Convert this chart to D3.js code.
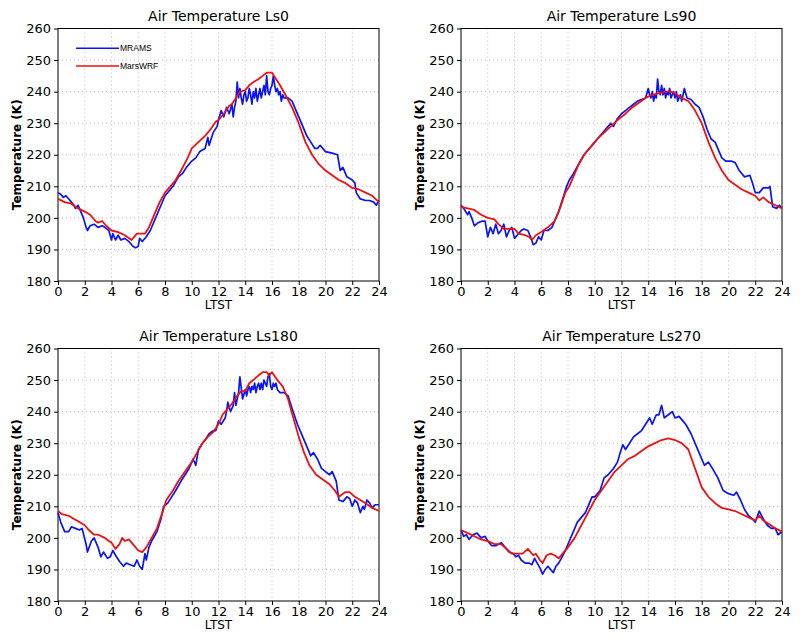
<!DOCTYPE html>
<html><head><meta charset="utf-8">
<script src="https://cdn.jsdelivr.net/npm/d3@7"></script>
<style>body{margin:0;background:#fff}svg{display:block}</style>
</head><body><svg id="c" width="800" height="638"></svg>
<script>
const panelTitles = ["Air Temperature Ls0","Air Temperature Ls90","Air Temperature Ls180","Air Temperature Ls270"];
const seriesNames = ["MRAMS","MarsWRF"];
const xTicks = [0,2,4,6,8,10,12,14,16,18,20,22,24];
const yTicks = [180,190,200,210,220,230,240,250,260];

// Ls0
const ls0_mrams_t = [0,0.2,0.4,0.6,0.8,1.0,1.2,1.3,1.5,1.7,1.9,2.1,2.2,2.4,2.7,3.0,3.3,3.5,3.8,4.0,4.1,4.3,4.5,4.7,5.0,5.3,5.6,5.8,6.0,6.1,6.3,6.6,6.9,7.3,7.7,8.0,8.4,8.6,9.0,9.3,9.6,10.0,10.3,10.6,11.0,11.2,11.3,11.6,11.9,12.0,12.2,12.4,12.6,12.8,13.0,13.1,13.2,13.3,13.4,13.5,13.6,13.7,13.8,13.9,14.0,14.1,14.2,14.3,14.4,14.5,14.6,14.7,14.8,14.9,15.0,15.1,15.2,15.3,15.4,15.5,15.6,15.7,15.8,15.9,16.0,16.1,16.2,16.3,16.4,16.5,16.6,16.7,16.8,16.9,17.2,17.5,17.8,18.2,18.6,18.9,19.2,19.4,19.6,20.0,20.5,20.9,21.1,21.3,21.6,22.0,22.2,22.3,22.6,23.0,23.3,23.6,23.8,24];
const ls0_mrams_v = [208,207.5,206.5,207,206,205,204,203,204,202,200,197,196,197.5,198,197,197.5,197,196,193,195,193,194.5,193,193.5,192.5,191,190.5,191,193.5,192.5,194,196,200,204,207,209,210,213,214,216,218,219,221,222,225.5,223,227,229,231,234,232,235,233,236,232,235,237,243,238,241,238,236,239,240,237,238,241,239,236,240,238,241,237,239,241,238,240,242,239,245,240,239,241,242,245,242,240,241,239,240,237,239,238,238,237,234,230,226,224,222,222,223,221,220.5,220,215,216,213,212,211,208,206,205.5,205.5,205,204,205.5];
const ls0_wrf_t = [0,0.5,1.0,1.5,2.0,2.4,2.8,3.0,3.3,3.6,4.0,4.5,5.0,5.5,5.9,6.3,6.5,6.8,7.2,7.6,8.0,8.4,8.8,9.2,9.7,10.0,10.5,11.0,11.4,11.8,12.0,12.4,12.8,13.0,13.3,13.6,14.0,14.3,14.6,15.0,15.3,15.6,16.0,16.3,16.6,17.0,17.5,18.0,18.5,19.0,19.5,20.0,20.5,21.0,21.5,22.0,22.5,23.0,23.5,24];
const ls0_wrf_v = [206,205,204.5,203,202,201,199,198.5,199,197.5,196,195.5,194.5,193,195,195,195,197,201,205,208,210,212,215,219,222,224,226,228,230.5,231,233,235.5,236,238,240,240.5,242,243,244,245,246,246,244,242,239,235,230,224,220,217,215,213.5,212,211,209.5,209,208,207,205];

// Ls90
const ls90_mrams_t = [0,0.2,0.5,0.6,0.8,1.0,1.3,1.6,1.8,2.0,2.2,2.4,2.6,2.8,3.0,3.2,3.4,3.6,3.8,4.0,4.2,4.5,4.7,5.0,5.2,5.4,5.6,5.8,6.0,6.2,6.5,6.8,7.0,7.3,7.6,7.9,8.1,8.4,8.8,9.2,9.6,10.0,10.4,10.8,11.2,11.4,11.7,12.0,12.3,12.6,12.9,13.2,13.5,13.8,14.0,14.1,14.2,14.3,14.4,14.5,14.6,14.7,14.8,14.9,15.0,15.1,15.2,15.3,15.4,15.5,15.6,15.7,15.8,15.9,16.0,16.1,16.2,16.4,16.5,16.7,16.9,17.2,17.5,17.8,18.1,18.4,18.7,19.0,19.3,19.5,19.8,20.2,20.5,20.8,21.2,21.6,21.8,22.0,22.3,22.6,23.0,23.1,23.3,23.6,23.8,24];
const ls90_mrams_v = [204,203,201,202,200,197.5,198.5,199,199,194,197,195,198,195,196,198,194,196,197,193.5,194.5,196,196.5,196,194,191.5,192,194,193,196,196,197,199,202,206,210,212,214,217,220,222,224,226,228,230,229,231.5,233,234,235,236,237,237.5,238,241,239,238,240,237,239,238,244,240,239,242,239,241,238,240,239,241,238,239,240,238,240,237,239,237,241,238,237.5,236,235,232,228,225,224,221,219,218,218,217.5,215,213,213.5,211,208,208,209.5,209.5,210,203.5,203,204,203];
const ls90_wrf_t = [0,0.5,1.0,1.5,2.0,2.5,2.8,3.2,3.6,4.0,4.3,4.8,5.1,5.3,5.6,6.0,6.5,7.0,7.4,7.8,8.1,8.4,8.8,9.2,9.7,10.2,10.7,11.2,11.7,12.3,12.8,13.3,13.8,14.3,14.8,15.3,15.7,16.0,16.5,17.0,17.5,18.0,18.5,19.0,19.5,20.0,20.5,21.0,21.5,22.0,22.3,22.6,23.0,23.5,24];
const ls90_wrf_v = [203.5,203,202.5,201,200,199.5,198,196.5,196.5,196.5,195,194.5,194,193,194.5,195.5,197,199,203,208,210,213,217,220,222.5,225,227,229,231,233,235,236.5,238,239,239.5,240,240,239.5,238,237,234,230,224,219,215,212,210.5,209,208,207,205.5,206.5,205,204,203];

// Ls180
const ls180_mrams_t = [0,0.2,0.5,0.8,1.0,1.3,1.6,1.8,2.1,2.2,2.5,2.7,3.0,3.2,3.4,3.7,3.9,4.1,4.3,4.6,4.9,5.1,5.4,5.7,5.9,6.1,6.3,6.5,6.6,6.8,7.0,7.4,7.7,7.9,8.2,8.5,8.8,9.2,9.5,9.8,10.1,10.3,10.5,10.8,11.0,11.3,11.6,11.8,12.0,12.2,12.5,12.6,12.7,12.9,13.1,13.2,13.3,13.5,13.6,13.8,14.0,14.1,14.2,14.3,14.4,14.5,14.6,14.7,14.8,14.9,15.0,15.1,15.2,15.3,15.4,15.5,15.6,15.7,15.8,15.9,16.0,16.1,16.2,16.3,16.4,16.6,16.9,17.2,17.5,17.9,18.3,18.6,18.9,19.1,19.4,19.7,20.0,20.3,20.5,20.8,21.0,21.3,21.6,21.8,22.0,22.2,22.4,22.6,22.8,22.9,23.1,23.3,23.5,23.7,24];
const ls180_mrams_v = [208,205,202,202,203.5,203,202.5,203,198,195.5,199,200,197,194,195.5,193.5,194,196,194.5,192.5,191,192,191.5,191,193,191,190,195,193,197,199,202,206,210,211,213,215,218,220,222,225,223,228,230,231,233,234,234,237,236,238,240,243,240,242,246,242,246,251,244,247,245,247,248,246,248,247,249,246,248,249,247,249,247,250,249,248,251,252,248,247,249,248,249,247,246,246,245,241,236,232,229,226,227,225,222,221,220,221,218,212,211.5,213,212.5,210,212,211,208,210,209,212,211,209.5,210.5,210.5];
const ls180_wrf_t = [0,0.3,0.8,1.2,1.6,2.0,2.3,2.7,3.0,3.5,3.8,4.0,4.3,4.6,4.8,5.0,5.3,5.6,6.0,6.3,6.6,7.0,7.4,7.8,8.1,8.6,9.0,9.5,10.0,10.4,10.8,11.2,11.6,12.0,12.3,12.6,13.0,13.4,13.7,14.0,14.3,14.6,15.0,15.3,15.6,15.8,16.0,16.4,16.8,17.2,17.6,18.0,18.4,18.8,19.3,19.8,20.3,20.7,21.0,21.5,21.8,22.2,22.6,23.0,23.5,24];
const ls180_wrf_v = [208.5,207.5,207,206,205,204,202.5,201,201,200,199,198.5,196.5,198,200,199,199.5,198,196,195.5,197,200,203,208,212,215,218,221,224,227,230,232,233.5,236,239,240.5,242.5,245,246.5,246.5,249,250,251.5,252.5,252.5,251.5,252.5,250,248,244,238,232,227,223,220,218.5,217,215,213,214.5,214.5,213,212,211,209.5,208.5];

// Ls270
const ls270_mrams_t = [0,0.2,0.4,0.6,0.9,1.2,1.5,1.8,2.0,2.3,2.6,3.0,3.3,3.6,3.9,4.1,4.3,4.5,4.8,5.1,5.3,5.5,5.7,5.9,6.1,6.3,6.5,6.7,6.9,7.1,7.3,7.5,7.8,8.1,8.4,8.7,9.0,9.3,9.5,9.8,10.0,10.4,10.7,11.0,11.4,11.7,11.9,12.1,12.3,12.6,12.9,13.2,13.5,13.8,14.1,14.3,14.6,14.8,15.0,15.2,15.5,15.8,16.0,16.3,16.6,16.8,17.2,17.6,17.9,18.2,18.5,18.8,19.2,19.6,20.0,20.4,20.6,20.9,21.2,21.5,21.8,22.0,22.3,22.6,22.9,23.2,23.5,23.7,24];
const ls270_mrams_v = [202.5,200.5,201,199.5,201,201.5,200,200.5,199,197.5,197.5,198.5,197,195.5,195,194,194.5,193,192,192,191.5,193.5,192,190.5,188.5,190,191,190,189,191,192,193.5,196,199,202,205,206.5,208,210,213,213,215,219,220,222,224,227,229.5,228,230,232,233,234,236,238,236,239,239,242,238,239,240,238,238.5,237,236,233,229,226,223,224,222,219,215,214,213.5,214.5,212,209,207,206,205,208.5,206,204,203,203,201,202];
const ls270_wrf_t = [0,0.5,1.0,1.5,2.0,2.5,3.0,3.4,3.8,4.2,4.6,5.0,5.4,5.6,5.9,6.1,6.4,6.7,7.0,7.3,7.6,8.0,8.5,9.0,9.5,10.0,10.5,11.0,11.5,12.0,12.5,13.0,13.5,14.0,14.5,15.0,15.5,16.0,16.5,17.0,17.5,18.0,18.5,19.0,19.5,20.0,20.5,21.0,21.5,22.0,22.3,22.6,23.0,23.5,24];
const ls270_wrf_v = [202.5,201.5,200.5,199.5,199,198,198,196.5,195,195,195,196.5,194.5,195,193,192,194.5,195,194.5,193.5,195,197,200,204,208,212,215,218,221,223,225,226,227.5,229,230,231,231.5,231,230,228,222,216,213,211,209.5,209,208.5,207.5,206.5,205.5,207,205.5,204.5,203,202];

const panels = [
  {title: panelTitles[0], ox: 0, oy: 0, left: 58, right: 379, mt: ls0_mrams_t, mv: ls0_mrams_v, wt: ls0_wrf_t, wv: ls0_wrf_v, legend: true},
  {title: panelTitles[1], ox: 400, oy: 0, left: 61, right: 382, mt: ls90_mrams_t, mv: ls90_mrams_v, wt: ls90_wrf_t, wv: ls90_wrf_v},
  {title: panelTitles[2], ox: 0, oy: 320, left: 58, right: 379, mt: ls180_mrams_t, mv: ls180_mrams_v, wt: ls180_wrf_t, wv: ls180_wrf_v},
  {title: panelTitles[3], ox: 400, oy: 320, left: 61, right: 382, mt: ls270_mrams_t, mv: ls270_mrams_v, wt: ls270_wrf_t, wv: ls270_wrf_v}
];
const colBlue = "#0a14f5", colRed = "#ee1111";
const svg = d3.select("#c");
const font = "DejaVu Sans, Verdana, sans-serif";

panels.forEach(p => {
  const g = svg.append("g").attr("transform", `translate(${p.ox},${p.oy})`);
  const top = 28.5, bottom = 281;
  const x = d3.scaleLinear().domain([0,24]).range([p.left, p.right]);
  const y = d3.scaleLinear().domain([180,260]).range([bottom, top]);

  // grid
  g.append("g").selectAll("line.gx").data(xTicks.slice(1,-1)).join("line")
    .attr("x1", d=>x(d)).attr("x2", d=>x(d)).attr("y1", top).attr("y2", bottom)
    .attr("stroke", "#bbb").attr("stroke-width", 1).attr("stroke-dasharray", "1,3");
  g.append("g").selectAll("line.gy").data(yTicks.slice(1,-1)).join("line")
    .attr("x1", p.left).attr("x2", p.right).attr("y1", d=>y(d)).attr("y2", d=>y(d))
    .attr("stroke", "#bbb").attr("stroke-width", 1).attr("stroke-dasharray", "1,3");

  // axes
  const xa = g.append("g").attr("transform", `translate(0,${bottom})`)
    .call(d3.axisBottom(x).tickValues(xTicks).tickSize(4).tickPadding(2).tickFormat(d3.format("d")));
  const ya = g.append("g").attr("transform", `translate(${p.left},0)`)
    .call(d3.axisLeft(y).tickValues(yTicks).tickSize(4).tickPadding(3).tickFormat(d3.format("d")));
  [xa, ya].forEach(a => {
    a.select(".domain").remove();
    a.selectAll("text").attr("font-family", font).attr("font-size", 13).attr("fill", "#000");
    a.selectAll("line").attr("stroke", "#000");
  });
  // frame
  g.append("rect").attr("x", p.left).attr("y", top).attr("width", p.right - p.left).attr("height", bottom - top)
    .attr("fill", "none").attr("stroke", "#000").attr("stroke-width", 1);

  const line = d3.line().x(d=>x(d[0])).y(d=>y(d[1]));
  const mData = p.mt.map((t,i)=>[t, p.mv[i]]);
  const wData = p.wt.map((t,i)=>[t, p.wv[i]]);
  g.append("path").datum(mData).attr("d", line).attr("fill","none").attr("stroke", colBlue).attr("stroke-width", 1.7).attr("stroke-linejoin","round");
  g.append("path").datum(wData).attr("d", line).attr("fill","none").attr("stroke", colRed).attr("stroke-width", 1.8).attr("stroke-linejoin","round");

  // title
  g.append("text").attr("x", (p.left + p.right)/2).attr("y", 21).attr("text-anchor","middle")
    .attr("font-family", font).attr("font-size", 14).text(p.title);
  // x label
  g.append("text").attr("x", (p.left + p.right)/2).attr("y", 309).attr("text-anchor","middle")
    .attr("font-family", font).attr("font-size", 12).text("LTST");
  // y label
  g.append("text").attr("transform", `translate(${p.left - 37},${(top+bottom)/2}) rotate(-90)`)
    .attr("text-anchor","middle").attr("font-family", font).attr("font-size", 12).attr("font-weight", "bold").text("Temperature (K)");

  if (p.legend) {
    const lg = g.append("g");
    [[colBlue, 48.3, seriesNames[0]], [colRed, 66, seriesNames[1]]].forEach(([c, yy, name]) => {
      lg.append("line").attr("x1", 76).attr("x2", 119).attr("y1", yy).attr("y2", yy).attr("stroke", c).attr("stroke-width", 1.5);
      lg.append("text").attr("x", 120).attr("y", yy + 3).attr("font-family", "Liberation Sans, Arial, sans-serif").attr("font-size", 8.5).text(name);
    });
  }
});
</script></body></html>
